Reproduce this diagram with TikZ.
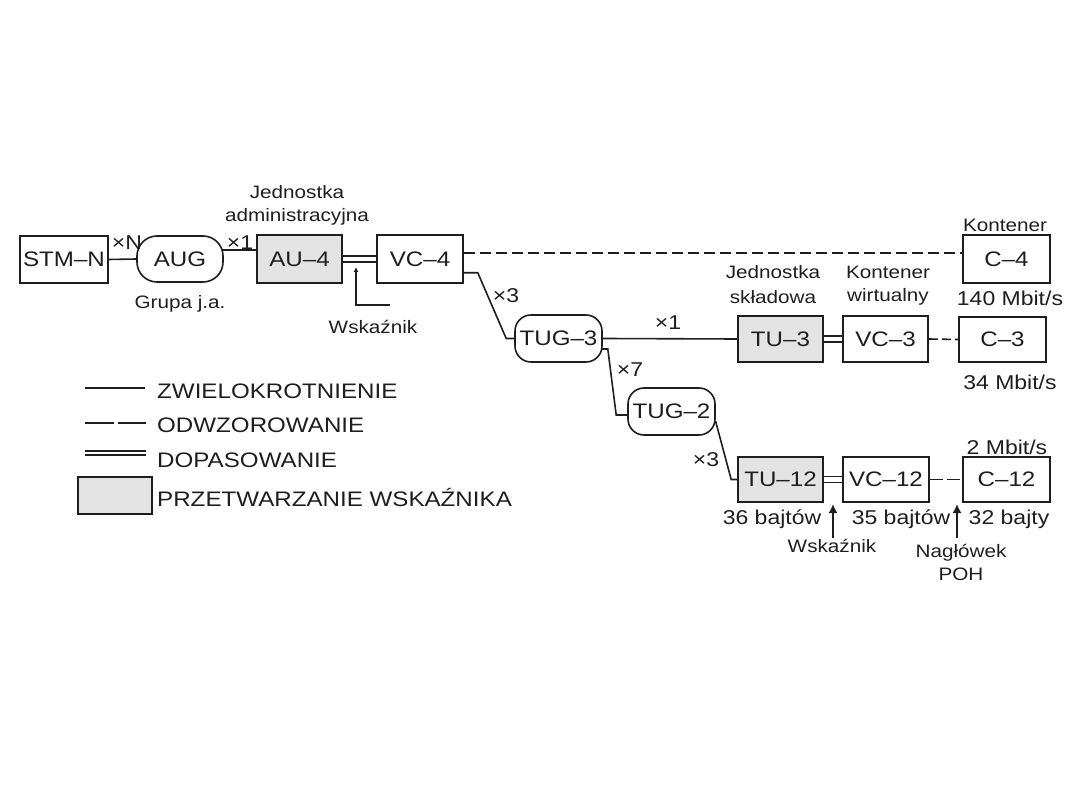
\documentclass[tikz,border=0pt]{standalone}
\usepackage{fontspec}
\setmainfont{Liberation Sans}[FakeStretch=1.15]
\usetikzlibrary{calc,arrows.meta,backgrounds}
\definecolor{ink}{HTML}{1E1E1E}
\definecolor{ptrgrey}{HTML}{E3E3E3}
\begin{document}
\begin{tikzpicture}[x=1pt,y=-1pt,
  every node/.style={text=ink},
  box/.style={draw=ink, line width=1.6pt, fill=white, inner sep=0pt,
              font=\fontsize{21}{24}\selectfont},
  ptrbox/.style={box, fill=ptrgrey},
  grp/.style={box, rounded corners=16pt},
  lbl/.style={font=\fontsize{18}{20}\selectfont, inner sep=0pt},
  rate/.style={font=\fontsize{20}{22}\selectfont, inner sep=0pt},
  legtxt/.style={font=\fontsize{21}{24}\selectfont, inner sep=0pt, anchor=west},
  mux/.style={draw=ink, line width=1.6pt},
  map/.style={draw=ink, line width=1.6pt, dash pattern=on 11pt off 5pt},
  mapshort/.style={draw=ink, line width=1.6pt, dash pattern=on 9pt off 4pt},
  adapt/.style={draw=ink, line width=1.5pt, double, double distance=4.2pt},
  ptrarrow/.style={draw=ink, line width=2pt, -{Latex[length=9pt,width=9pt]}},
  smallarrow/.style={draw=ink, line width=1.4pt, -{Latex[length=5pt,width=5pt]}}]
\path[use as bounding box] (0,0) rectangle (1080,810);

% main row
\node[box, minimum width=88pt, minimum height=47pt] (stm) at (64,259.5) {STM--N};
\node[grp, rounded corners=20pt, minimum width=86pt, minimum height=46pt] (aug) at (180,259) {AUG};
\node[ptrbox, minimum width=85pt, minimum height=48pt] (au4) at (299.5,259) {AU--4};
\node[box, minimum width=86pt, minimum height=48pt] (vc4) at (420,259) {VC--4};
\node[box, minimum width=87pt, minimum height=48pt] (c4) at (1006.5,259) {C--4};

% TU-3 row
\node[grp, minimum width=87pt, minimum height=47pt] (tug3) at (558.5,338.5) {TUG--3};
\node[ptrbox, minimum width=85pt, minimum height=46pt] (tu3) at (780.5,339) {TU--3};
\node[box, minimum width=85pt, minimum height=46pt] (vc3) at (885.5,339) {VC--3};
\node[box, minimum width=87pt, minimum height=45pt] (c3) at (1002.5,339.5) {C--3};

% TU-12 row
\node[grp, minimum width=87pt, minimum height=47pt] (tug2) at (671.5,411.5) {TUG--2};
\node[ptrbox, minimum width=85pt, minimum height=45pt] (tu12) at (780.5,479.5) {TU--12};
\node[box, minimum width=86pt, minimum height=45pt] (vc12) at (886,479.5) {VC--12};
\node[box, minimum width=87pt, minimum height=45pt] (c12) at (1006.5,479.5) {C--12};

% connectors
\begin{scope}[on background layer]
  \draw[mux] (stm.east) -- (aug.west);
  \draw[mux] ($(aug.east)+(-8,-9)$) -- ($(au4.west)+(0,-9)$);
  \draw[adapt] (au4.east) -- (vc4.west);
  \draw[map] ($(vc4.east)+(0,-6)$) -- ($(c4.west)+(0,-6)$);
  \draw[mux] ($(vc4.south east)+(0,-11)$) -- ++(14,0) -- ($(tug3.west)+(-8,0)$) -- ($(tug3.west)+(6,0)$);
  \draw[mux] (tug3.east) -- (tu3.west);
  \draw[adapt] (tu3.east) -- (vc3.west);
  \draw[mapshort] (vc3.east) -- (c3.west);
  \draw[mux] ($(tug3.east)+(-3,10.5)$) -- ++(8,0) -- ($(tug2.west)+(-11,3.5)$) -- ($(tug2.west)+(6,3.5)$);
  \draw[mux] ($(tug2.east)+(-3,10.5)$) -- ++(3,0) -- ($(tu12.west)+(-6,0)$) -- (tu12.west);
  \draw[adapt] (tu12.east) -- (vc12.west);
  \draw[draw=ink, line width=1.6pt, dash pattern=on 13pt off 4pt] (vc12.east) -- (c12.west);
\end{scope}

% pointer arrow under AU-4 / VC-4
\coordinate (w1) at (390,305);
\coordinate (w1tip) at (356,267);
\draw[smallarrow] (w1) -| (w1tip);
\node[lbl] (wsk1) at (373,327) {Wskaźnik};

% arrows under TU-12 row
\coordinate (a1) at (833,538);
\coordinate (a1tip) at (833,504);
\coordinate (a2) at (957,538);
\coordinate (a2tip) at (957,504);
\draw[ptrarrow] (a1) -- (a1tip);
\draw[ptrarrow] (a2) -- (a2tip);

% multiplicity labels
\node[rate] (xN) at (127,243) {×N};
\node[rate] (x1a) at (240,243) {×1};
\node[rate] (x3a) at (506,296) {×3};
\node[rate] (x1b) at (668,323) {×1};
\node[rate] (x7) at (630,370) {×7};
\node[rate] (x3b) at (706,460) {×3};

% descriptive labels
\node[lbl] (jadm1) at (297,192) {Jednostka};
\node[lbl] (jadm2) at (297,217) {administracyjna};
\node[lbl] (grupa) at (180,304) {Grupa j.a.};
\node[lbl] (kont4) at (1005,225) {Kontener};
\node[rate] (r140) at (1010,298) {140 Mbit/s};
\node[lbl] (js1) at (773,272) {Jednostka};
\node[lbl] (js2) at (773,297) {składowa};
\node[lbl] (kw1) at (888,272) {Kontener};
\node[lbl] (kw2) at (888,297) {wirtualny};
\node[rate] (r34) at (1010,382) {34 Mbit/s};
\node[rate] (r2) at (1007,447) {2 Mbit/s};
\node[rate] (b36) at (772,519) {36 bajtów};
\node[rate] (b35) at (901,519) {35 bajtów};
\node[rate] (b32) at (1009,519) {32 bajty};
\node[lbl] (wsk2) at (832,546) {Wskaźnik};
\node[lbl] (nag) at (961,553) {Nagłówek};
\node[lbl] (poh) at (961,574) {POH};

% legend
\draw[mux] (85,388) -- (145,388);
\node[legtxt] (l1) at (157,391) {ZWIELOKROTNIENIE};
\draw[draw=ink, line width=1.6pt, dash pattern=on 29pt off 4pt] (85,423) -- (146,423);
\node[legtxt] (l2) at (157,425) {ODWZOROWANIE};
\draw[adapt, double distance=2.5pt] (85,453) -- (146,453);
\node[legtxt] (l3) at (157,460) {DOPASOWANIE};
\draw[draw=ink, line width=1.6pt, fill=ptrgrey] (78,477) rectangle (152,514);
\node[legtxt] (l4) at (157,497) {PRZETWARZANIE WSKAŹNIKA};
\end{tikzpicture}
\end{document}
